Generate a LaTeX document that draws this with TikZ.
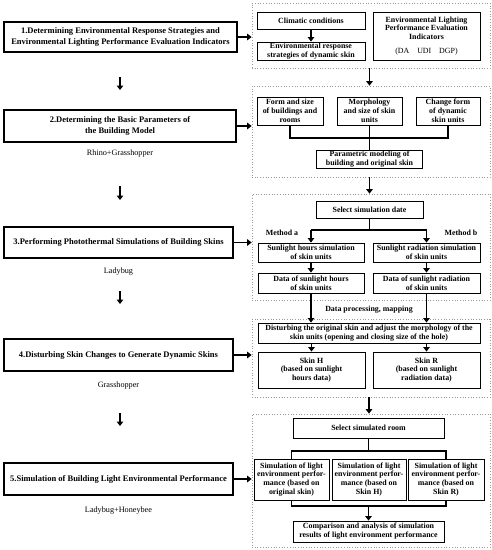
\documentclass[tikz,border=0pt]{standalone}
\usepackage{fontspec}
\setmainfont{Liberation Serif}
\usetikzlibrary{arrows.meta}
\begin{document}
\begin{tikzpicture}[x=1pt,y=-1pt,
  lbox/.style={draw, line width=1.1pt, align=center, inner sep=1pt, font=\fontsize{8.5}{11}\selectfont\bfseries},
  sbox/.style={draw, line width=0.9pt, align=center, inner sep=0.5pt, font=\fontsize{7.9}{8.9}\selectfont\bfseries},
  panel/.style={draw=gray!80, dotted, line width=0.7pt, inner sep=0pt},
  arr/.style={line width=1.6pt, -{Triangle[length=4.5pt,width=6.5pt]}},
  bus/.style={line width=1.6pt},
  tool/.style={font=\fontsize{8.2}{10}\selectfont},
  lab/.style={font=\fontsize{7.9}{9}\selectfont\bfseries}]
\useasboundingbox (0,0) rectangle (491,550);

% panels
\node[panel, minimum width=238pt, minimum height=65pt] (P1) at (371,35.5) {};
\node[panel, minimum width=238pt, minimum height=91pt] (P2) at (371,131.5) {};
\node[panel, minimum width=238pt, minimum height=106pt] (P3) at (371,247) {};
\node[panel, minimum width=238pt, minimum height=78pt] (P4) at (371,358) {};
\node[panel, minimum width=238pt, minimum height=133pt] (P5) at (371,480.5) {};

% left column
\node[lbox, minimum width=233pt, minimum height=30pt] (L1) at (120.5,37) {1.Determining Environmental Response Strategies and\\Environmental Lighting Performance Evaluation Indicators};
\node[lbox, minimum width=232pt, minimum height=32pt] (L2) at (120,126) {2.Determining the Basic Parameters of\\the Building Model};
\node[lbox, minimum width=229pt, minimum height=31pt] (L3) at (118.5,242.5) {3.Performing Photothermal Simulations of Building Skins};
\node[lbox, minimum width=229pt, minimum height=32pt] (L4) at (118.5,355) {4.Disturbing Skin Changes to Generate Dynamic Skins};
\node[lbox, minimum width=229pt, minimum height=32pt] (L5) at (118.5,479) {5.Simulation of Building Light Environmental Performance};

\node[tool] (T2) at (120,154) {Rhino+Grasshopper};
\node[tool] (T3) at (118.5,272) {Ladybug};
\node[tool] (T4) at (118.5,386) {Grasshopper};
\node[tool] (T5) at (118.5,511) {Ladybug+Honeybee};

\coordinate (a1s) at (120,77); \coordinate (a1e) at (120,90);
\coordinate (a2s) at (120,186); \coordinate (a2e) at (120,200);
\coordinate (a3s) at (120,291); \coordinate (a3e) at (120,304);
\coordinate (a4s) at (120,413); \coordinate (a4e) at (120,426);
\draw[arr] (a1s) -- (a1e);
\draw[arr] (a2s) -- (a2e);
\draw[arr] (a3s) -- (a3e);
\draw[arr] (a4s) -- (a4e);

\draw[arr] (L1.east) -- (L1.east -| P1.west);
\draw[arr] (L2.east) -- (L2.east -| P2.west);
\draw[arr] (L3.east) -- (L3.east -| P3.west);
\draw[arr] (L4.east) -- (L4.east -| P4.west);
\draw[arr] (L5.east) -- (L5.east -| P5.west);

% panel 1
\node[sbox, minimum width=108pt, minimum height=17pt] (A1) at (311,20.5) {Climatic conditions};
\node[sbox, minimum width=108pt, minimum height=18pt] (A2) at (311,51) {Environmental response\\strategies of dynamic skin};
\node[sbox, minimum width=107pt, minimum height=48pt] (A3) at (426.5,36) {Environmental Lighting\\Performance Evaluation\\Indicators\\[5pt]\mdseries(DA\quad UDI\quad DGP)};
\draw[arr] (A1) -- (A2);

% panel 2
\node[sbox, minimum width=66pt, minimum height=28pt] (B1) at (290,111) {Form and size\\of buildings and\\rooms};
\node[sbox, minimum width=65pt, minimum height=28pt] (B2) at (369.5,111) {Morphology\\and size of skin\\units};
\node[sbox, minimum width=64pt, minimum height=28pt] (B3) at (448,111) {Change form\\of dynamic\\skin units};
\node[sbox, minimum width=106pt, minimum height=18pt] (B4) at (369.5,159) {Parametric modeling of\\building and original skin};
\coordinate (bus2) at (369.5,138);
\draw[bus] (B1.south) -- (B1.south |- bus2) -- (B3.south |- bus2) -- (B3.south);
\draw[bus] (B2.south) -- (B4.north);
\draw[arr] (P1.south -| B4) -- (P2.north -| B4);

% panel 3
\node[sbox, minimum width=107pt, minimum height=17pt] (C1) at (369.5,209.5) {Select simulation date};
\node[sbox, minimum width=106pt, minimum height=19pt] (C2) at (311,252.5) {Sunlight hours simulation\\of skin units};
\node[sbox, minimum width=107pt, minimum height=19pt] (C3) at (426.5,252.5) {Sunlight radiation simulation\\of skin units};
\node[sbox, minimum width=106pt, minimum height=20pt] (C4) at (311,283) {Data of sunlight hours\\of skin units};
\node[sbox, minimum width=107pt, minimum height=20pt] (C5) at (426.5,283) {Data of sunlight radiation\\of skin units};
\coordinate (bus3) at (369.5,230);
\draw[bus] (C1.south) -- (bus3);
\draw[bus] (C2.north |- bus3) -- (C3.north |- bus3);
\draw[arr] (C2.north |- bus3) -- (C2.north);
\draw[arr] (C3.north |- bus3) -- (C3.north);
\draw[arr] (C2) -- (C4);
\draw[arr] (C3) -- (C5);
\node[lab] (Ma) at (282,233) {Method a};
\node[lab] (Mb) at (461,233) {Method b};
\draw[arr] (P2.south -| C1) -- (P3.north -| C1);

% panel 4
\node[sbox, minimum width=222pt, minimum height=20pt] (D1) at (369,333) {Disturbing the original skin and adjust the morphology of the\\skin units (opening and closing size of the hole)};
\node[sbox, minimum width=107pt, minimum height=36pt] (D2) at (311.5,370) {Skin H\\(based on sunlight\\hours data)};
\node[sbox, minimum width=107pt, minimum height=36pt] (D3) at (426.5,370) {Skin R\\(based on sunlight\\radiation data)};
\node[lab] (DP) at (369,310) {Data processing, mapping};
\draw[arr] (C4.south) -- (C4.south |- D1.north);
\draw[arr] (C5.south) -- (C5.south |- D1.north);
\draw[arr] (D1.south -| D2) -- (D2.north);
\draw[arr] (D1.south -| D3) -- (D3.north);

% panel 5
\draw[arr] (P4.south -| D1) -- (P5.north -| D1);
\node[sbox, minimum width=151pt, minimum height=20pt] (E1) at (368.5,428) {Select simulated room};
\node[sbox, minimum width=75pt, minimum height=41pt] (E2) at (291.5,479.5) {Simulation of light\\environment perfor-\\mance (based on\\original skin)};
\node[sbox, minimum width=74pt, minimum height=41pt] (E3) at (369,479.5) {Simulation of light\\environment perfor-\\mance (based on\\Skin H)};
\node[sbox, minimum width=76pt, minimum height=41pt] (E4) at (446,479.5) {Simulation of light\\environment perfor-\\mance (based on\\Skin R)};
\node[sbox, minimum width=151pt, minimum height=21pt] (E5) at (368.5,531.5) {Comparison and analysis of simulation\\results of light environment performance};
\coordinate (bus5a) at (368.5,451);
\coordinate (bus5b) at (368.5,506);
\draw[bus] (E1.south) -- (bus5a);
\draw[bus] (E2.north) -- (E2.north |- bus5a) -- (E4.north |- bus5a) -- (E4.north);
\draw[bus] (E2.south) -- (E2.south |- bus5b) -- (E4.south |- bus5b) -- (E4.south);
\draw[arr] (bus5b) -- (E5.north);
\end{tikzpicture}
\end{document}
